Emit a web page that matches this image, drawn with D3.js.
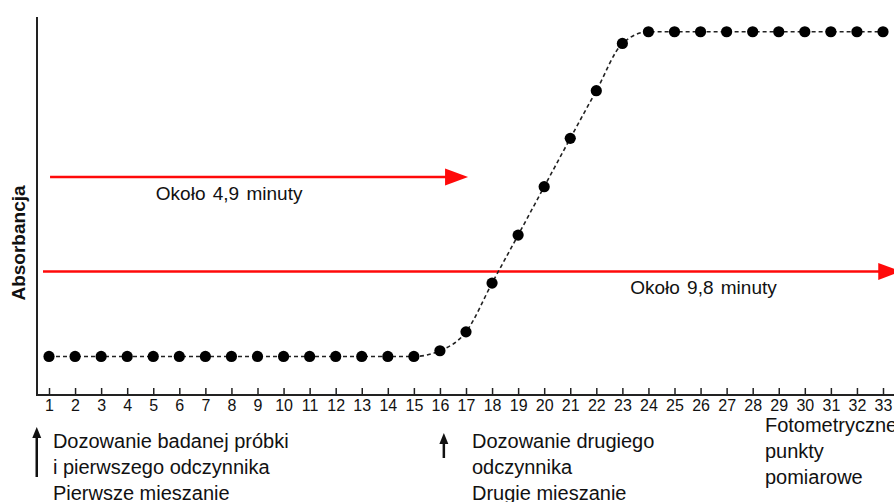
<!DOCTYPE html>
<html>
<head>
<meta charset="utf-8">
<script src="https://cdn.jsdelivr.net/npm/d3@7/dist/d3.min.js"></script>
<style>
  html, body { margin: 0; padding: 0; background: #fff; }
  svg { display: block; }
  text { font-family: "Liberation Sans", Arial, Helvetica, sans-serif; fill: #111; }
</style>
</head>
<body>
<svg id="chart" width="894" height="502"></svg>
<script>
// Photometric measurement points (cycle numbers)
const points = d3.range(1, 34);
const tickLabels = points.map(String);

// Absorbance readings, arbitrary units
const absorbance = [
  0.102, 0.102, 0.102, 0.102, 0.102, 0.102, 0.102, 0.102,
  0.102, 0.102, 0.102, 0.102, 0.102, 0.102, 0.102,
  0.117, 0.167, 0.296, 0.423, 0.551, 0.679, 0.805, 0.930,
  0.961, 0.961, 0.961, 0.961, 0.961, 0.961, 0.961, 0.961, 0.961, 0.961
];

// Time spans marked with red arrows, in point / absorbance units
const spanStart = [1.04, 0.77];
const spanEnd = [17.08, 33.7];
const spanLevel = [0.577, 0.327];
const spanLabels = ["Około 4,9 minuty", "Około 9,8 minuty"];
const spanLabelX = [5.1, 23.3];
const spanLabelLevel = [0.515, 0.268];

// Notes under the axis
const noteAt = [1.15, 17.23, 28.47];
const noteLines = [
  ["Dozowanie badanej próbki", "i pierwszego odczynnika", "Pierwsze mieszanie"],
  ["Dozowanie drugiego", "odczynnika", "Drugie mieszanie"],
  ["Fotometryczne", "punkty", "pomiarowe"]
];
const noteArrowAt = [0.53, 16.15, null];

const svg = d3.select("#chart");
const axisLeft = 37, axisBottom = 395, axisTop = 17;

const x = d3.scaleLinear().domain([1, 33]).range([49, 883]);
const y = d3.scaleLinear().domain([0, 1]).range([axisBottom, axisTop]);

// Axes
svg.append("line")
  .attr("x1", axisLeft).attr("x2", axisLeft)
  .attr("y1", axisTop).attr("y2", axisBottom + 1)
  .attr("stroke", "#222").attr("stroke-width", 2);

const xAxis = d3.axisBottom(x)
  .tickValues(points)
  .tickFormat((d, i) => tickLabels[i])
  .tickSizeInner(-7)
  .tickSizeOuter(0)
  .tickPadding(5);

const gx = svg.append("g")
  .attr("transform", `translate(0,${axisBottom})`)
  .call(xAxis);
gx.select(".domain").remove();
gx.selectAll(".tick line").attr("stroke", "#222").attr("stroke-width", 1.5);
gx.selectAll(".tick text")
  .attr("font-size", 16)
  .attr("font-family", "'Liberation Sans', Arial, sans-serif")
  .attr("fill", "#111");
svg.append("line")
  .attr("x1", axisLeft - 1).attr("x2", 894)
  .attr("y1", axisBottom).attr("y2", axisBottom)
  .attr("stroke", "#222").attr("stroke-width", 2);

// Y label
svg.append("text")
  .attr("transform", `translate(18,243) rotate(-90)`)
  .attr("text-anchor", "middle")
  .attr("dominant-baseline", "central")
  .attr("font-size", 19)
  .attr("font-weight", "bold")
  .text("Absorbancja");

// Red arrows for elapsed time
const red = "#ff0a0a";
spanStart.forEach((s, i) => {
  const yy = y(spanLevel[i]);
  const x0 = x(s), x1 = x(spanEnd[i]);
  const head = 23, half = 8.5;
  svg.append("line")
    .attr("x1", x0).attr("x2", x1 - head + 1)
    .attr("y1", yy).attr("y2", yy)
    .attr("stroke", red).attr("stroke-width", 2.5);
  svg.append("path")
    .attr("d", `M${x1 - head},${yy - half}L${x1},${yy}L${x1 - head},${yy + half}Z`)
    .attr("fill", red);
  svg.append("text")
    .attr("x", x(spanLabelX[i]))
    .attr("y", y(spanLabelLevel[i]))
    .attr("font-size", 19)
    .attr("word-spacing", 2)
    .text(spanLabels[i]);
});

// Absorbance curve
const data = points.map((p, i) => ({ p, a: absorbance[i] }));
const line = d3.line()
  .x(d => x(d.p))
  .y(d => y(d.a))
  .curve(d3.curveMonotoneX);

svg.append("path")
  .datum(data)
  .attr("d", line)
  .attr("fill", "none")
  .attr("stroke", "#222")
  .attr("stroke-width", 1.6)
  .attr("stroke-dasharray", "4,3");

svg.append("g").selectAll("circle")
  .data(data)
  .join("circle")
  .attr("cx", d => x(d.p))
  .attr("cy", d => y(d.a))
  .attr("r", 5.6)
  .attr("fill", "#000");

// Notes under the axis, with small up-arrows marking the dosing steps
const arrowTop = [427, 433];
const arrowBottom = [477, 458];
noteAt.forEach((p, i) => {
  const g = svg.append("g");
  if (noteArrowAt[i] !== null) {
    const ax = x(noteArrowAt[i]);
    g.append("line")
      .attr("x1", ax).attr("x2", ax)
      .attr("y1", arrowTop[i] + 8).attr("y2", arrowBottom[i])
      .attr("stroke", "#111").attr("stroke-width", 2.5);
    g.append("path")
      .attr("d", `M${ax - 4.5},${arrowTop[i] + 11}L${ax},${arrowTop[i]}L${ax + 4.5},${arrowTop[i] + 11}Z`)
      .attr("fill", "#111");
  }
  const base = i === 2 ? 432 : 448;
  noteLines[i].forEach((t, j) => {
    g.append("text")
      .attr("x", x(p))
      .attr("y", base + j * 26)
      .attr("font-size", 20)
      .text(t);
  });
});
</script>
</body>
</html>
